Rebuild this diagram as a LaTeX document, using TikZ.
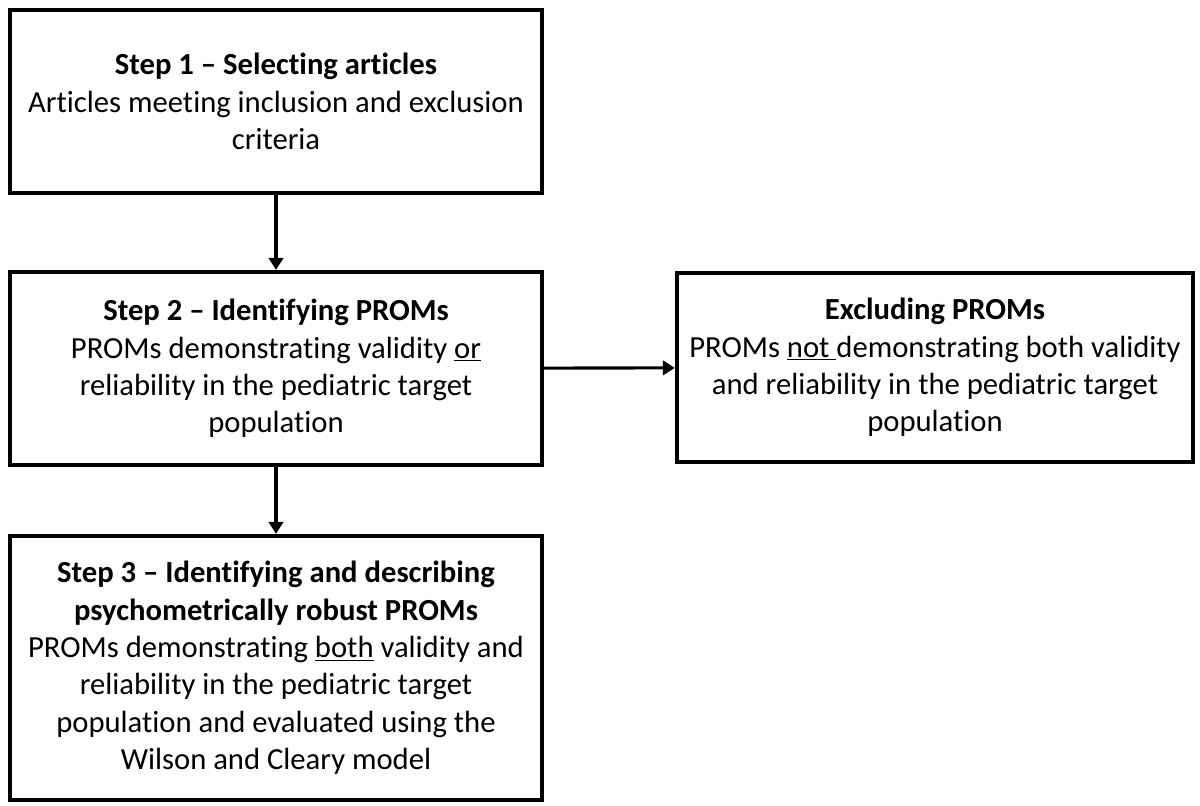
\documentclass[tikz,border=0pt]{standalone}
\usepackage{fontspec}
\setmainfont{Carlito}[Ligatures=NoCommon]
\usepackage{tikz}
\usetikzlibrary{arrows.meta, positioning}

\begin{document}
\begin{tikzpicture}[
  x=0.025cm, y=-0.025cm,
  stepbox/.style={rectangle, draw=black, fill=white, line width=3pt,
                  minimum width=13.3cm, align=center,
                  font=\fontsize{21.8pt}{26.6pt}\selectfont},
  arr/.style={-{Triangle[width=0.36cm, length=0.3cm]}, line width=2.7pt}
]
\useasboundingbox (0,0) rectangle (1200,806);
\node[stepbox, minimum height=4.575cm] (s1) at (276, 101.5)
  {\textbf{Step 1 – Selecting articles}\\Articles meeting inclusion and exclusion\\criteria};
\node[stepbox, minimum height=4.825cm] (s2) at (276, 368.5)
  {\textbf{Step 2 – Identifying PROMs}\\PROMs demonstrating validity \underline{or}\\reliability in the pediatric target\\population};
\node[stepbox, minimum height=6.6cm] (s3) at (276, 668)
  {\textbf{Step 3 – Identifying and describing}\\\textbf{psychometrically robust PROMs}\\PROMs demonstrating \underline{both} validity and\\reliability in the pediatric target\\population and evaluated using the\\Wilson and Cleary model};
\node[stepbox, minimum width=12.9cm, minimum height=4.725cm] (ex) at (935, 367.5)
  {\textbf{Excluding PROMs}\\PROMs \underline{not\ }demonstrating both validity\\and reliability in the pediatric target\\population};
\draw[arr] (s1)--(s2);
\draw[arr] (s2)--(s3);
\draw[arr, line width=2.2pt] (s2)--(ex);
\end{tikzpicture}
\end{document}
